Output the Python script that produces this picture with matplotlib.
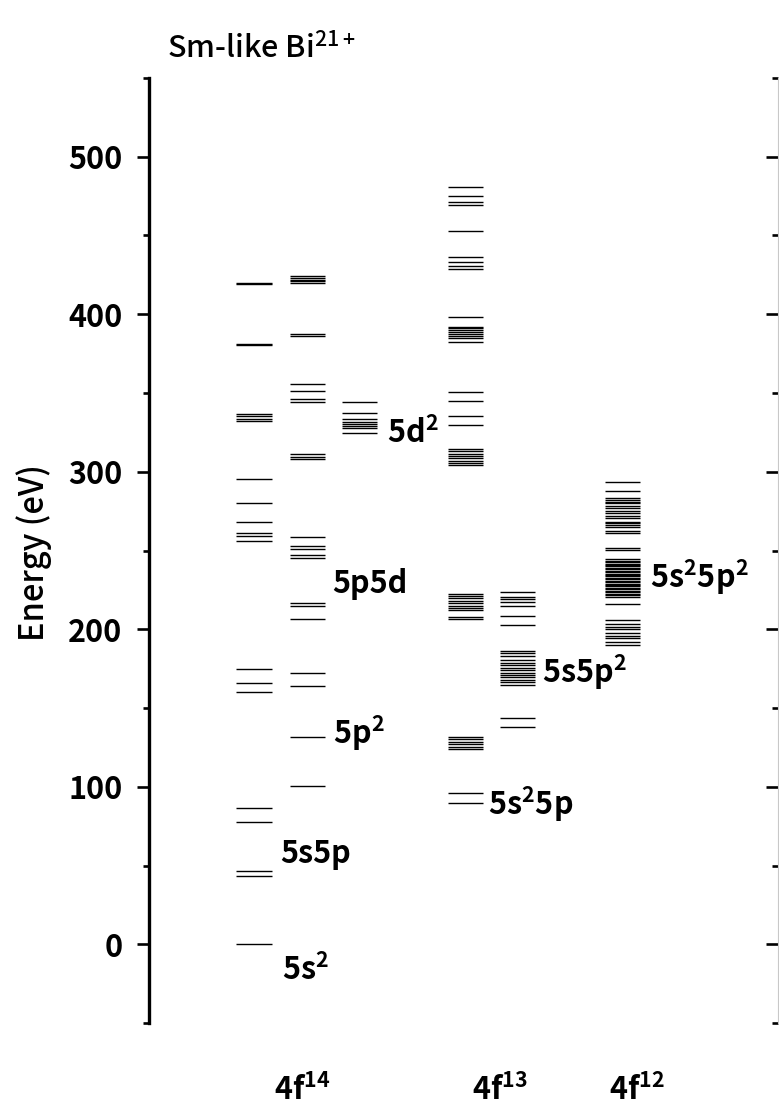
import matplotlib
matplotlib.use("Agg")
import matplotlib.pyplot as plt
from matplotlib.ticker import MultipleLocator

plt.rcParams['font.family'] = ['Noto Sans CJK JP', 'DejaVu Sans']
plt.rcParams['mathtext.default'] = 'regular'

# energy levels (eV) for each configuration column
lv_4f14_a = [0, 43.4, 46.8, 77.5, 86.2, 159.9, 165.6, 174.7, 256.3, 259.0, 261.0,
             268.0, 280.4, 295.4, 332.5, 333.8, 335.2, 336.5, 380.6, 381.4, 419.0, 419.6]
lv_4f14_b = [100.4, 131.7, 163.9, 172.2, 206.5, 215.0, 216.8, 245.0, 247.0, 250.8,
             252.8, 258.8, 308.0, 309.5, 311.0, 344.0, 346.5, 351.5, 355.8, 386.5,
             387.5, 420.0, 421.0, 422.0, 423.0, 424.0]
lv_4f14_5d2 = [324.4, 327.6, 329.0, 330.5, 331.5, 333.5, 337.0, 344.0]
lv_4f13_a = [89.4, 96.1, 123.9, 125.4, 127.1, 128.5, 130.1, 131.5, 206.3, 207.6, 212.1,
             213.4, 214.9, 216.4, 217.9, 219.6, 221.1, 222.4, 304.5, 305.5, 307.0,
             308.5, 310.0, 311.5, 313.0, 314.5, 329.7, 335.6, 345.0, 350.5, 382.2,
             385.2, 386.5, 387.3, 388.5, 390.0, 391.0, 392.2, 398.3, 428.8, 430.7,
             432.9, 436.3, 453.0, 469.3, 471.2, 475.2, 480.5]
lv_4f13_b = [137.7, 143.8, 164.6, 166.3, 167.7, 169.4, 170.8, 172.3, 174.0, 175.7,
             177.2, 178.7, 180.4, 183.2, 184.7, 186.0, 202.7, 208.2, 214.5, 217.5,
             218.9, 220.2, 223.8]
lv_4f12 = [190.0, 192.1, 194.2, 195.9, 197.4, 199.9, 201.6, 203.3, 205.8, 215.8,
           220.7, 221.7, 222.6, 223.6, 224.5, 225.4, 226.3, 227.2, 228.1, 229.0,
           229.9, 230.8, 231.7, 232.6, 233.5, 234.4, 235.3, 236.2, 237.1, 238.0,
           239.0, 239.9, 240.8, 241.7, 242.6, 243.5, 244.4, 250.3, 251.8, 260.9,
           262.6, 265.1, 266.2, 267.2, 268.3, 270.4, 272.1, 273.6, 275.3, 276.8,
           278.5, 280.0, 281.0, 282.1, 283.2, 288.0, 293.7]

columns = [lv_4f14_a, lv_4f14_b, lv_4f14_5d2, lv_4f13_a, lv_4f13_b, lv_4f12]
col_x = [1.67, 2.52, 3.35, 5.03, 5.86, 7.53]
half_w = 0.28

config_labels = ['5s$^2$', '5s5p', '5p$^2$', '5p5d', '5d$^2$', '5s$^2$5p', '5s5p$^2$', '5s$^2$5p$^2$']
config_x = [2.11, 2.08, 2.93, 2.91, 3.78, 5.39, 6.25, 7.97]
config_y = [-23, 51.5, 127, 223, 318, 82, 166, 226]

group_labels = ['4f$^{14}$', '4f$^{13}$', '4f$^{12}$']
group_x = [2.43, 5.58, 7.76]

fig = plt.figure(figsize=(7.79, 11.18), dpi=100)
ax = fig.add_axes([149 / 779, 1 - 1023 / 1118, 629 / 779, 945 / 1118])

for xc, levels in zip(col_x, columns):
    ax.hlines(levels, xc - half_w, xc + half_w, colors='black', linewidth=1.0)

for lab, x, y in zip(config_labels, config_x, config_y):
    ax.text(x, y, lab, fontsize=22, fontweight='bold', ha='left', va='baseline')

for lab, x in zip(group_labels, group_x):
    ax.text(x, -0.0815, lab, transform=ax.get_xaxis_transform(), fontsize=22,
            fontweight='bold', ha='center', va='baseline')

ax.set_xlim(0, 10)
ax.set_ylim(-50, 550)
ax.yaxis.set_major_locator(MultipleLocator(100))
ax.yaxis.set_minor_locator(MultipleLocator(50))
ax.set_xticks([])

for side in ['top', 'bottom', 'right']:
    ax.spines[side].set_visible(False)
ax.spines['left'].set_linewidth(2.4)

ax.tick_params(axis='y', which='major', direction='out', length=8.6, width=1.9,
               labelsize=22, pad=10.5)
ax.tick_params(axis='y', which='minor', direction='out', length=4.3, width=1.9)
for lbl in ax.get_yticklabels():
    lbl.set_fontweight('bold')

# right-hand axis: thin grey line, ticks pointing inward, no labels
rax = ax.secondary_yaxis('right')
rax.yaxis.set_major_locator(MultipleLocator(100))
rax.yaxis.set_minor_locator(MultipleLocator(50))
rax.spines['right'].set_color('#c8c8c8')
rax.spines['right'].set_linewidth(0.8)
rax.tick_params(axis='y', which='major', direction='in', length=8.6, width=1.9,
                labelright=False)
rax.tick_params(axis='y', which='minor', direction='in', length=4.3, width=1.9)

fig.text(34 / 779, 1 - 553 / 1118, 'Energy (eV)', rotation=90,
         fontsize=23.5, fontweight='medium', ha='center', va='center')
fig.text(167 / 779, 1 - 58 / 1118, 'Sm-like Bi$^{21+}$', fontsize=22,
         fontweight='medium', ha='left', va='baseline')

fig.savefig('out.png', dpi=100)
